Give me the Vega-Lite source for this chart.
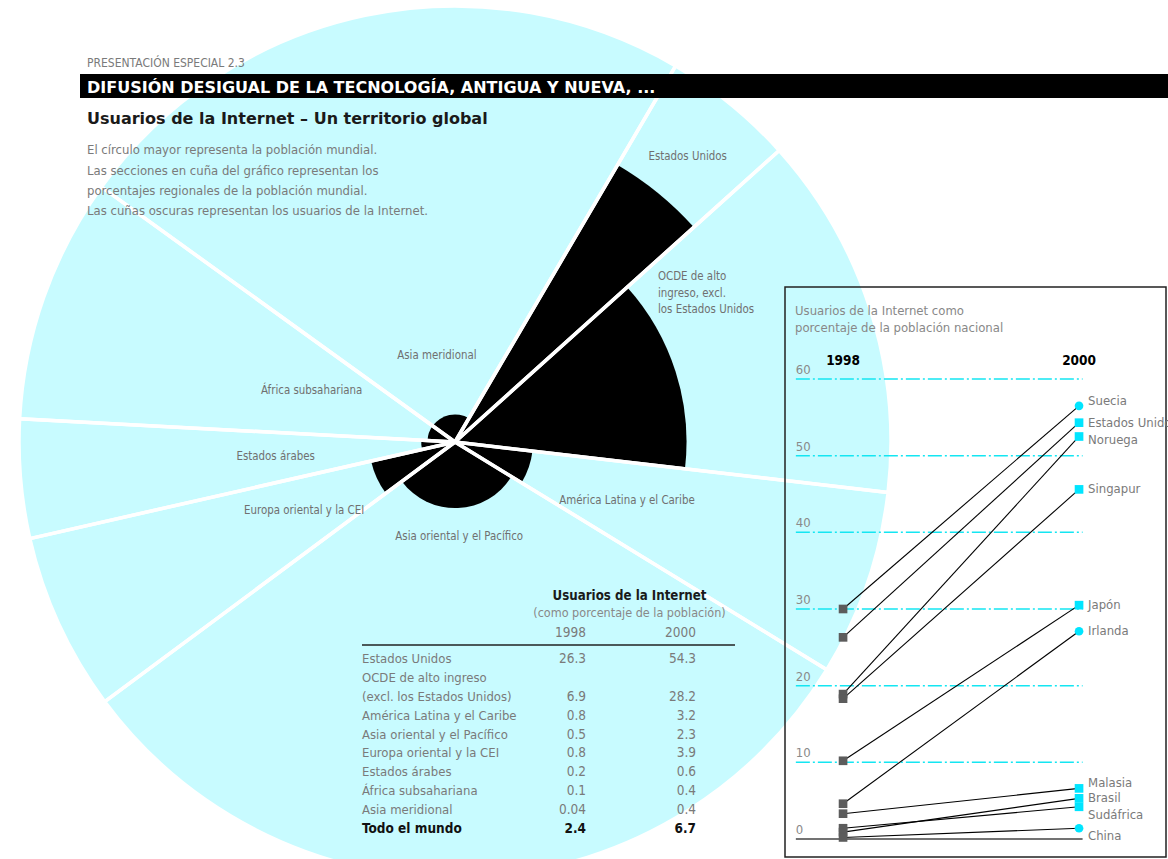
{
  "$schema": "https://vega.github.io/schema/vega-lite/v6.json",
  "background": "white",
  "padding": {"left": 17, "top": 4, "right": 0, "bottom": 0},
  "bounds": "flush",
  "align": "none",
  "spacing": -811,
  "config": {
    "view": {"stroke": null},
    "font": "Liberation Sans Narrow, DejaVu Sans Condensed, sans-serif",
    "text": {"font": "Liberation Sans Narrow, DejaVu Sans Condensed, sans-serif"}
  },
  "datasets": {
    "regions": [
      {"idx": 1, "region": "Estados Unidos", "label": "Estados Unidos", "pop": 4.9, "v1998": 26.3, "v2000": 54.3},
      {"idx": 2, "region": "OCDE de alto ingreso (excl. los Estados Unidos)", "label": "OCDE de alto\ningreso, excl.\nlos Estados Unidos", "pop": 13.5, "v1998": 6.9, "v2000": 28.2},
      {"idx": 3, "region": "América Latina y el Caribe", "label": "América Latina y el Caribe", "pop": 6.9, "v1998": 0.8, "v2000": 3.2},
      {"idx": 4, "region": "Asia oriental y el Pacífico", "label": "Asia oriental y el Pacífico", "pop": 31.1, "v1998": 0.5, "v2000": 2.3},
      {"idx": 5, "region": "Europa oriental y la CEI", "label": "Europa oriental y la CEI", "pop": 6.6, "v1998": 0.8, "v2000": 3.9},
      {"idx": 6, "region": "Estados árabes", "label": "Estados árabes", "pop": 4.4, "v1998": 0.2, "v2000": 0.6},
      {"idx": 7, "region": "África subsahariana", "label": "África subsahariana", "pop": 9.1, "v1998": 0.1, "v2000": 0.4},
      {"idx": 8, "region": "Asia meridional", "label": "Asia meridional", "pop": 23.5, "v1998": 0.04, "v2000": 0.4}
    ],
    "table": [
      {"line": "Estados Unidos", "1998": 26.3, "2000": 54.3},
      {"line": "OCDE de alto ingreso"},
      {"line": "(excl. los Estados Unidos)", "1998": 6.9, "2000": 28.2},
      {"line": "América Latina y el Caribe", "1998": 0.8, "2000": 3.2},
      {"line": "Asia oriental y el Pacífico", "1998": 0.5, "2000": 2.3},
      {"line": "Europa oriental y la CEI", "1998": 0.8, "2000": 3.9},
      {"line": "Estados árabes", "1998": 0.2, "2000": 0.6},
      {"line": "África subsahariana", "1998": 0.1, "2000": 0.4},
      {"line": "Asia meridional", "1998": 0.04, "2000": 0.4},
      {"line": "Todo el mundo", "1998": 2.4, "2000": 6.7, "total": true}
    ],
    "countries": [
      {"country": "Suecia", "year": 1998, "pct": 30.0},
      {"country": "Suecia", "year": 2000, "pct": 56.5},
      {"country": "Estados Unidos", "year": 1998, "pct": 26.3},
      {"country": "Estados Unidos", "year": 2000, "pct": 54.3},
      {"country": "Noruega", "year": 1998, "pct": 18.9},
      {"country": "Noruega", "year": 2000, "pct": 52.5},
      {"country": "Singapur", "year": 1998, "pct": 18.3},
      {"country": "Singapur", "year": 2000, "pct": 45.6},
      {"country": "Japón", "year": 1998, "pct": 10.2},
      {"country": "Japón", "year": 2000, "pct": 30.5},
      {"country": "Irlanda", "year": 1998, "pct": 4.6},
      {"country": "Irlanda", "year": 2000, "pct": 27.1},
      {"country": "Malasia", "year": 1998, "pct": 3.3},
      {"country": "Malasia", "year": 2000, "pct": 6.6},
      {"country": "Brasil", "year": 1998, "pct": 0.9},
      {"country": "Brasil", "year": 2000, "pct": 5.3},
      {"country": "Sudáfrica", "year": 1998, "pct": 1.4},
      {"country": "Sudáfrica", "year": 2000, "pct": 4.2},
      {"country": "China", "year": 1998, "pct": 0.2},
      {"country": "China", "year": 2000, "pct": 1.4}
    ],
    "grid": [{"v": 0}, {"v": 10}, {"v": 20}, {"v": 30}, {"v": 40}, {"v": 50}, {"v": 60}],
    "years": [{"year": 1998}, {"year": 2000}]
  },
  "hconcat": [
    {
      "width": 872,
      "height": 736,
      "data": {"name": "regions"},
      "title": {
        "text": "Usuarios de la Internet – Un territorio global",
        "subtitle": [
          "El círculo mayor representa la población mundial.",
          "Las secciones en cuña del gráfico representan los",
          "porcentajes regionales de la población mundial.",
          "Las cuñas oscuras representan los usuarios de la Internet."
        ],
        "anchor": "start",
        "frame": "group",
        "dx": 68,
        "offset": -214,
        "font": "DejaVu Sans",
        "fontSize": 16,
        "fontWeight": "bold",
        "color": "#1a1a1a",
        "subtitleFont": "Liberation Sans Narrow, DejaVu Sans Condensed, sans-serif",
        "subtitleFontSize": 13,
        "subtitleColor": "#7a7a7a",
        "subtitleLineHeight": 20.3,
        "subtitlePadding": 17,
        "zindex": 1
      },
      "transform": [
        {"stack": "pop", "groupby": [], "sort": [{"field": "idx", "order": "ascending"}], "as": ["t0", "t1"]}
      ],
      "layer": [
        {
          "mark": {"type": "arc", "fill": "#c8fbff", "strokeWidth": 0},
          "encoding": {
            "theta": {"field": "t0", "type": "quantitative", "scale": {"domain": [0, 100], "range": [0.5306, 6.8138]}},
            "theta2": {"field": "t1"},
            "radius": {"datum": 100, "type": "quantitative", "scale": {"type": "sqrt", "domain": [0, 100], "range": [0, 436], "zero": true}}
          }
        },
        {
          "mark": {"type": "arc", "fill": "#000000", "strokeWidth": 0},
          "encoding": {
            "theta": {"field": "t0", "type": "quantitative"},
            "theta2": {"field": "t1"},
            "radius": {"field": "v2000", "type": "quantitative"}
          }
        },
        {
          "mark": {"type": "arc", "fill": "transparent", "stroke": "white", "strokeWidth": 3.5, "strokeJoin": "round"},
          "encoding": {
            "theta": {"field": "t0", "type": "quantitative"},
            "theta2": {"field": "t1"},
            "radius": {"datum": 100, "type": "quantitative"}
          }
        },
        {
          "mark": {
            "type": "text",
            "radius": {"expr": "datum.idx === 1 ? 368 : datum.idx === 3 ? 182 : datum.idx === 4 ? 95 : datum.idx === 5 ? 166 : datum.idx === 6 ? 180 : datum.idx === 7 ? 152 : 88"},
            "fontSize": 11.4,
            "fill": "#707070"
          },
          "encoding": {
            "theta": {"field": "pop", "type": "quantitative", "stack": true},
            "order": {"field": "idx", "type": "quantitative"},
            "detail": {"field": "region", "type": "nominal"},
            "text": {"field": "label", "type": "nominal", "condition": {"test": "datum.idx === 2", "value": ""}}
          }
        },
        {
          "mark": {"type": "text", "radius": 213, "dy": -100, "align": "left", "lineBreak": "\n", "lineHeight": 16.5, "fontSize": 11.4, "fill": "#707070"},
          "encoding": {
            "theta": {"field": "pop", "type": "quantitative", "stack": true},
            "order": {"field": "idx", "type": "quantitative"},
            "detail": {"field": "region", "type": "nominal"},
            "text": {"condition": {"test": "datum.idx === 2", "field": "label", "type": "nominal"}, "value": ""}
          }
        }
      ]
    },
    {
      "bounds": "flush",
      "align": "none",
      "spacing": 189,
      "vconcat": [
        {
          "width": 1088,
          "height": 24,
          "data": {"values": [{"section": "2.3"}]},
          "title": {
            "text": "PRESENTACIÓN ESPECIAL 2.3",
            "subtitle": "DIFUSIÓN DESIGUAL DE LA TECNOLOGÍA, ANTIGUA Y NUEVA, ...",
            "anchor": "start",
            "frame": "group",
            "dx": 7,
            "offset": -23,
            "font": "Liberation Sans Narrow, DejaVu Sans Condensed, sans-serif",
            "fontSize": 12,
            "fontWeight": "normal",
            "color": "#7a7a7a",
            "subtitleFont": "DejaVu Sans",
            "subtitleFontSize": 16,
            "subtitleFontWeight": "bold",
            "subtitleColor": "white",
            "subtitlePadding": 10,
            "zindex": 1
          },
          "mark": {"type": "rect", "color": "black"},
          "encoding": {}
        },
        {
          "bounds": "flush",
          "align": "none",
          "spacing": 50,
          "hconcat": [
            {
              "width": 655,
              "height": 570,
              "data": {"name": "table"},
              "title": {
                "text": "Usuarios de la Internet",
                "subtitle": "(como porcentaje de la población)",
                "anchor": "middle",
                "frame": "group",
                "dx": 222,
                "offset": -333,
                "font": "Liberation Sans Narrow, DejaVu Sans Condensed, sans-serif",
                "fontSize": 13.2,
                "fontWeight": "bold",
                "color": "#1a1a1a",
                "subtitleFont": "Liberation Sans Narrow, DejaVu Sans Condensed, sans-serif",
                "subtitleFontSize": 12.5,
                "subtitleColor": "#888888",
                "subtitlePadding": 3,
                "zindex": 1
              },
              "layer": [
                {
                  "mark": {"type": "text", "align": "left", "fontSize": 13, "fill": "#7a7a7a"},
                  "encoding": {
                    "x": {"value": 282},
                    "y": {"field": "line", "type": "nominal", "sort": null, "scale": {"range": [372, 542], "padding": 0}, "axis": null},
                    "text": {"field": "line", "type": "nominal", "condition": {"test": "datum.total", "value": ""}}
                  }
                },
                {
                  "mark": {"type": "text", "align": "left", "fontSize": 13.5, "fontWeight": "bold", "fill": "#111111"},
                  "encoding": {
                    "x": {"value": 282},
                    "y": {"field": "line", "type": "nominal", "sort": null},
                    "text": {"condition": {"test": "datum.total", "field": "line", "type": "nominal"}, "value": ""}
                  }
                },
                {
                  "transform": [{"fold": ["1998", "2000"], "as": ["yr", "val"]}],
                  "mark": {"type": "text", "align": "right", "fontSize": 13.5, "fill": "#7a7a7a"},
                  "encoding": {
                    "x": {"field": "yr", "type": "nominal", "scale": {"domain": ["1998", "2000"], "range": [506, 616], "padding": 0}, "axis": null},
                    "y": {"field": "line", "type": "nominal", "sort": null},
                    "text": {"field": "val", "type": "quantitative", "format": ".2~f", "condition": {"test": "datum.total || !isValid(datum.val)", "value": ""}}
                  }
                },
                {
                  "transform": [{"fold": ["1998", "2000"], "as": ["yr", "val"]}],
                  "mark": {"type": "text", "align": "right", "fontSize": 13.5, "fontWeight": "bold", "fill": "#111111"},
                  "encoding": {
                    "x": {"field": "yr", "type": "nominal"},
                    "y": {"field": "line", "type": "nominal", "sort": null},
                    "text": {"condition": {"test": "datum.total", "field": "val", "type": "quantitative", "format": ".2~f"}, "value": ""}
                  }
                },
                {
                  "data": {"values": [{"yr": "1998"}, {"yr": "2000"}]},
                  "mark": {"type": "text", "align": "right", "fontSize": 13.5, "fill": "#7a7a7a"},
                  "encoding": {
                    "x": {"field": "yr", "type": "nominal"},
                    "y": {"value": 346},
                    "text": {"field": "yr", "type": "nominal"}
                  }
                },
                {
                  "data": {"values": [{"rule": "header"}]},
                  "mark": {"type": "rule", "color": "#222222", "strokeWidth": 1.4},
                  "encoding": {"x": {"value": 282}, "x2": {"value": 655}, "y": {"value": 358}}
                }
              ]
            },
            {
              "width": 381,
              "height": 570,
              "view": {"stroke": "#222222", "strokeWidth": 1.5, "fill": null},
              "data": {"name": "countries"},
              "title": {
                "text": ["Usuarios de la Internet como", "porcentaje de la población nacional"],
                "anchor": "start",
                "frame": "group",
                "dx": 10,
                "offset": -48,
                "font": "Liberation Sans Narrow, DejaVu Sans Condensed, sans-serif",
                "fontSize": 13,
                "fontWeight": "normal",
                "color": "#888888",
                "lineHeight": 17,
                "zindex": 1
              },
              "layer": [
                {
                  "data": {"name": "grid"},
                  "mark": {"type": "rule", "strokeWidth": 1.5},
                  "encoding": {
                    "x": {"datum": 1997.6, "type": "quantitative", "scale": {"domain": [1997.508, 2000.737], "nice": false, "zero": false}, "axis": null},
                    "x2": {"datum": 2000.03},
                    "y": {"field": "v", "type": "quantitative", "scale": {"domain": [-2.35, 72.0], "nice": false, "zero": false}, "axis": null},
                    "color": {"condition": {"test": "datum.v === 0", "value": "#444444"}, "value": "#14e6f2"},
                    "strokeDash": {"condition": {"test": "datum.v === 0", "value": [1, 0]}, "value": [14, 3, 2, 3]}
                  }
                },
                {
                  "data": {"name": "grid"},
                  "mark": {"type": "text", "align": "left", "baseline": "bottom", "dy": -2, "fontSize": 13, "fill": "#8a8a8a"},
                  "encoding": {
                    "x": {"datum": 1997.6, "type": "quantitative", "axis": null},
                    "y": {"field": "v", "type": "quantitative", "axis": null},
                    "text": {"field": "v", "type": "quantitative"}
                  }
                },
                {
                  "data": {"name": "years"},
                  "mark": {"type": "text", "fontSize": 13.5, "fontWeight": "bold", "fill": "#000000"},
                  "encoding": {
                    "x": {"field": "year", "type": "quantitative", "axis": null},
                    "y": {"datum": 62.3, "type": "quantitative", "axis": null},
                    "text": {"field": "year", "type": "quantitative", "format": "d"}
                  }
                },
                {
                  "mark": {"type": "line", "color": "#000000", "strokeWidth": 1.1},
                  "encoding": {
                    "x": {"field": "year", "type": "quantitative", "axis": null},
                    "y": {"field": "pct", "type": "quantitative", "axis": null},
                    "detail": {"field": "country", "type": "nominal"}
                  }
                },
                {
                  "transform": [{"filter": "datum.year === 1998"}],
                  "mark": {"type": "point", "shape": "square", "filled": true, "size": 75, "color": "#5c5c5c", "opacity": 1},
                  "encoding": {
                    "x": {"field": "year", "type": "quantitative", "axis": null},
                    "y": {"field": "pct", "type": "quantitative", "axis": null}
                  }
                },
                {
                  "transform": [{"filter": "datum.year === 2000"}],
                  "mark": {"type": "point", "filled": true, "size": 75, "color": "#00e5ff", "opacity": 1},
                  "encoding": {
                    "x": {"field": "year", "type": "quantitative", "axis": null},
                    "y": {"field": "pct", "type": "quantitative", "axis": null},
                    "shape": {"condition": {"test": "indexof(['Suecia', 'Irlanda', 'China'], datum.country) >= 0", "value": "circle"}, "value": "square"}
                  }
                },
                {
                  "transform": [{"filter": "datum.year === 2000"}],
                  "mark": {"type": "text", "align": "left", "dx": 9, "dy": 0, "fontSize": 13, "fill": "#7a7a7a"},
                  "encoding": {
                    "x": {"field": "year", "type": "quantitative", "axis": null},
                    "y": {"field": "pct", "type": "quantitative", "axis": null},
                    "text": {"condition": {"test": "indexof(['Estados Unidos', 'Singapur', 'Japón', 'Irlanda', 'Brasil'], datum.country) >= 0", "field": "country", "type": "nominal"}, "value": ""}
                  }
                },
                {
                  "transform": [{"filter": "datum.year === 2000"}],
                  "mark": {"type": "text", "align": "left", "dx": 9, "dy": -5, "fontSize": 13, "fill": "#7a7a7a"},
                  "encoding": {
                    "x": {"field": "year", "type": "quantitative", "axis": null},
                    "y": {"field": "pct", "type": "quantitative", "axis": null},
                    "text": {"condition": {"test": "indexof(['Suecia', 'Malasia'], datum.country) >= 0", "field": "country", "type": "nominal"}, "value": ""}
                  }
                },
                {
                  "transform": [{"filter": "datum.year === 2000"}],
                  "mark": {"type": "text", "align": "left", "dx": 9, "dy": 4, "fontSize": 13, "fill": "#7a7a7a"},
                  "encoding": {
                    "x": {"field": "year", "type": "quantitative", "axis": null},
                    "y": {"field": "pct", "type": "quantitative", "axis": null},
                    "text": {"condition": {"test": "datum.country === 'Noruega'", "field": "country", "type": "nominal"}, "value": ""}
                  }
                },
                {
                  "transform": [{"filter": "datum.year === 2000"}],
                  "mark": {"type": "text", "align": "left", "dx": 9, "dy": 8, "fontSize": 13, "fill": "#7a7a7a"},
                  "encoding": {
                    "x": {"field": "year", "type": "quantitative", "axis": null},
                    "y": {"field": "pct", "type": "quantitative", "axis": null},
                    "text": {"condition": {"test": "indexof(['Sudáfrica', 'China'], datum.country) >= 0", "field": "country", "type": "nominal"}, "value": ""}
                  }
                }
              ]
            }
          ]
        }
      ]
    }
  ]
}
